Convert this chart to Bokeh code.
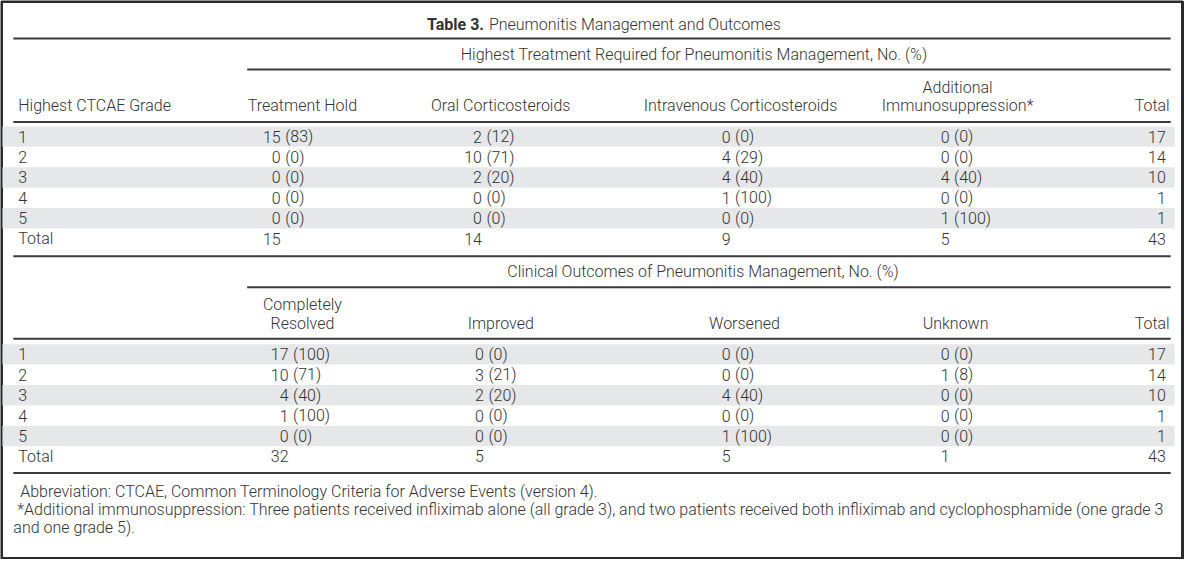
from bokeh.plotting import figure
from bokeh.models import Range1d, ColumnDataSource
from bokeh.core.properties import value
from bokeh.embed import file_html
from bokeh.resources import INLINE

# ---------------- data ----------------
title_bold = "Table 3."
title_rest = "Pneumonitis Management and Outcomes"
span_treatment = "Highest Treatment Required for Pneumonitis Management, No. (%)"
span_outcome = "Clinical Outcomes of Pneumonitis Management, No. (%)"
stub_header = "Highest CTCAE Grade"
grades = ["1", "2", "3", "4", "5"]
total_label = "Total"

treat_headers_top = ["", "", "", "Additional", ""]
treat_headers = ["Treatment Hold", "Oral Corticosteroids", "Intravenous Corticosteroids",
                 "Immunosuppression*", "Total"]
hold_n = [15, 0, 0, 0, 0]
hold_pct = [83, 0, 0, 0, 0]
oral_n = [2, 10, 2, 0, 0]
oral_pct = [12, 71, 20, 0, 0]
iv_n = [0, 4, 4, 1, 0]
iv_pct = [0, 29, 40, 100, 0]
immuno_n = [0, 0, 4, 0, 1]
immuno_pct = [0, 0, 40, 0, 100]
treat_row_totals = [17, 14, 10, 1, 1]
treat_col_totals = [15, 14, 9, 5, 43]

outcome_headers_top = ["Completely", "", "", "", ""]
outcome_headers = ["Resolved", "Improved", "Worsened", "Unknown", "Total"]
resolved_n = [17, 10, 4, 1, 0]
resolved_pct = [100, 71, 40, 100, 0]
improved_n = [0, 3, 2, 0, 0]
improved_pct = [0, 21, 20, 0, 0]
worsened_n = [0, 0, 4, 0, 1]
worsened_pct = [0, 0, 40, 0, 100]
unknown_n = [0, 1, 0, 0, 0]
unknown_pct = [0, 8, 0, 0, 0]
outcome_row_totals = [17, 14, 10, 1, 1]
outcome_col_totals = [32, 5, 5, 1, 43]

footnotes = [
    "Abbreviation: CTCAE, Common Terminology Criteria for Adverse Events (version 4).",
    "*Additional immunosuppression: Three patients received infliximab alone (all grade 3), and two patients received both infliximab and cyclophosphamide (one grade 3",
    "and one grade 5).",
]

# ---------------- layout (reference pixel space) ----------------
W, H = 1200, 575
FONT = value("Roboto Light, Roboto")
FONT_BOLD = value("Roboto")
TXT = "#333333"
RULE = "#3a3a3a"
BAND = "#e6e7e8"
FS = "16px"

X_L, X_R = 13, 1186
X_STUB = 18
X_PART = 250
X_TOTAL = 1185
X_TOTAL_NUM = 1181
PITCH = 21

p = figure(width=1184, height=559, x_range=Range1d(0, W), y_range=Range1d(H, 0),
           output_backend="svg", toolbar_location=None, min_border=0,
           x_axis_type=None, y_axis_type=None)
p.grid.visible = False
p.outline_line_color = None
p.background_fill_color = "white"
p.border_fill_color = "white"

# outer frame
p.quad(left=[1], right=[1198], top=[1], bottom=[574], fill_color=None,
       line_color="#2a2a2a", line_width=3)

def text(xs, ys, ts, align="left", size=FS, style="normal", font=FONT):
    src = ColumnDataSource(dict(x=xs, y=ys, t=ts))
    p.text(x="x", y="y", text="t", source=src, text_font=font, text_font_size=size,
           text_color=TXT, text_align=align, text_baseline="middle", text_font_style=style)

def rule(x0, x1, y):
    p.segment(x0=[x0], y0=[y], x1=[x1], y1=[y], line_color=RULE, line_width=2)

# title
text([490], [25], [title_bold], align="right", style="bold", font=FONT_BOLD)
text([495], [25], [title_rest], align="left")
rule(X_L, X_R, 39)

def block(y_span, y_prule, y_h1, y_h2, y_rule, y_row1, y_end, span, span_c, heads_top, heads,
          centers, anchors, ns, pcts, row_totals, col_totals, show_stub):
    text([span_c], [y_span], [span], align="center")
    rule(X_PART, X_R, y_prule)
    if show_stub:
        text([X_STUB], [y_h2], [stub_header])
    for i in range(4):
        if heads_top[i]:
            text([centers[i]], [y_h1], [heads_top[i]], align="center")
        text([centers[i]], [y_h2], [heads[i]], align="center")
    text([X_TOTAL], [y_h2], [heads[4]], align="right")
    rule(X_L, X_R, y_rule)
    ys = [y_row1 + k * PITCH for k in range(len(grades) + 1)]
    band_rows = [ys[k] for k in range(0, len(grades), 2)]
    p.quad(left=[2] * len(band_rows), right=[1190] * len(band_rows),
           top=[y - PITCH / 2 for y in band_rows], bottom=[y + PITCH / 2 for y in band_rows],
           fill_color=BAND, line_color=None)
    text([X_STUB] * len(ys), ys, grades + [total_label])
    for i in range(4):
        n, pc = ns[i], pcts[i]
        text([anchors[i]] * len(n), ys[:len(n)], [str(v) for v in n], align="right")
        text([anchors[i] + 4.5] * len(pc), ys[:len(pc)], ["(%d)" % v for v in pc], align="left")
        text([anchors[i]], [ys[-1]], [str(col_totals[i])], align="right")
    text([X_TOTAL_NUM] * len(ys), ys, [str(v) for v in row_totals] + [str(col_totals[4])],
         align="right")
    rule(X_L, X_R, y_end)

block(56, 71, 89, 108, 125, 140, 263, span_treatment, 703, treat_headers_top, treat_headers,
      [306, 507, 750, 970], [284, 488, 740, 962],
      [hold_n, oral_n, iv_n, immuno_n], [hold_pct, oral_pct, iv_pct, immuno_pct],
      treat_row_totals, treat_col_totals, True)

block(279, 295, 313, 332, 348, 364, 486, span_outcome, 712, outcome_headers_top, outcome_headers,
      [306, 507, 754, 968], [292, 490, 740, 962],
      [resolved_n, improved_n, worsened_n, unknown_n],
      [resolved_pct, improved_pct, worsened_pct, unknown_pct],
      outcome_row_totals, outcome_col_totals, False)

# footnotes
text([20, 17, 13], [505, 524, 542], footnotes)

open("out.html", "w").write(file_html(p, INLINE))
